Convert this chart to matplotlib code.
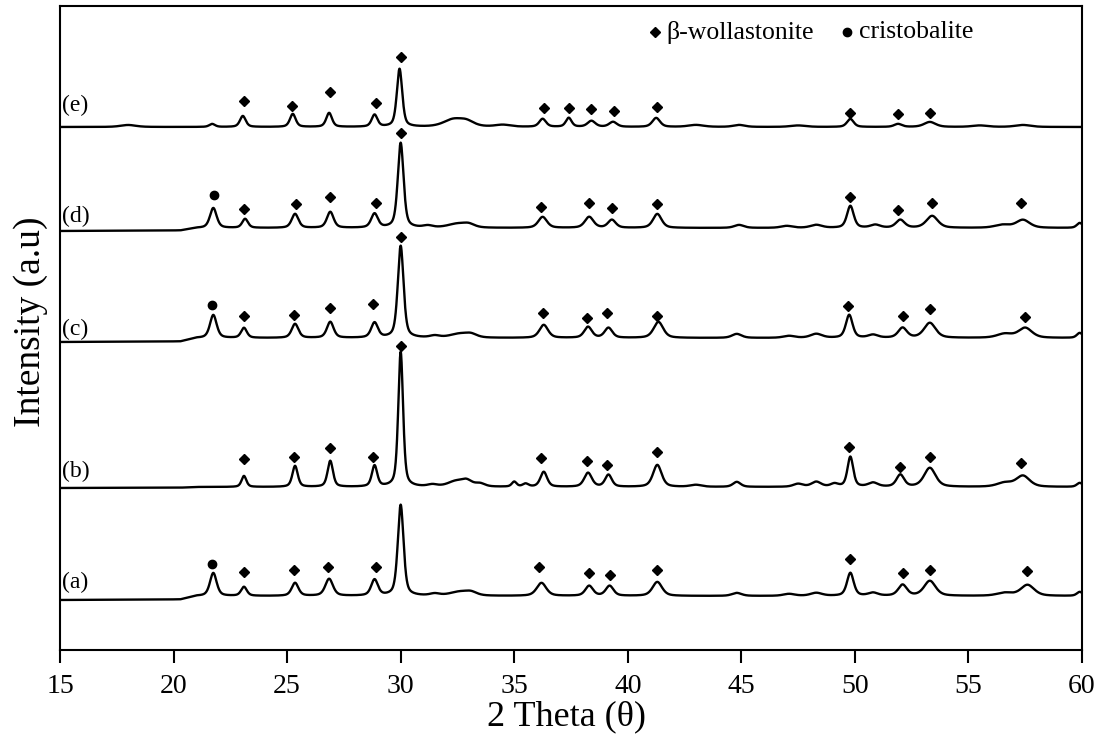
import numpy as np
import matplotlib
matplotlib.use("Agg")
import matplotlib.pyplot as plt

plt.rcParams['font.family'] = ['Liberation Serif', 'DejaVu Serif']

# ---------------- data ----------------
sample_labels = ["(a)", "(b)", "(c)", "(d)", "(e)"]

# peak tables: (2theta position, height above local baseline, FWHM)
peaks_a = [(21.75, 23, 0.35), (23.1, 9, 0.3), (25.35, 13, 0.35), (26.85, 17, 0.4),
           (28.85, 16, 0.35), (30.0, 91, 0.3), (31.5, 2, 0.5), (32.6, 4, 1.0),
           (33.1, 3, 0.6), (36.2, 13, 0.5), (38.3, 10, 0.4), (39.2, 10, 0.4),
           (41.3, 14, 0.5), (44.8, 3, 0.5), (47.1, 2, 0.6), (48.3, 3, 0.6),
           (49.8, 23, 0.35), (50.8, 3, 0.5), (52.1, 11, 0.45), (53.3, 15, 0.6),
           (56.6, 3, 0.8), (57.6, 11, 0.7), (59.9, 4, 0.3)]
peaks_b = [(23.1, 11, 0.25), (25.35, 21, 0.28), (26.9, 26, 0.28), (28.85, 21, 0.28),
           (30.0, 135, 0.25), (31.4, 2, 0.5), (32.4, 5, 0.8), (32.9, 6, 0.6),
           (33.5, 3, 0.5), (35.0, 5, 0.25), (35.5, 3, 0.3), (36.3, 15, 0.35),
           (38.25, 14, 0.4), (39.15, 12, 0.35), (41.3, 22, 0.45), (43.0, 2, 0.6),
           (44.8, 5, 0.4), (47.5, 3, 0.5), (48.3, 5, 0.5), (49.1, 3, 0.4),
           (49.8, 30, 0.3), (50.8, 4, 0.5), (52.0, 12, 0.4), (53.3, 19, 0.6),
           (56.6, 4, 0.8), (57.4, 11, 0.7), (59.9, 4, 0.3)]
peaks_c = [(21.75, 23, 0.35), (23.1, 10, 0.3), (25.35, 14, 0.35), (26.9, 16, 0.35),
           (28.85, 15, 0.35), (30.0, 92, 0.3), (31.5, 2, 0.5), (32.6, 4, 1.0),
           (33.1, 3, 0.6), (36.3, 13, 0.45), (38.25, 11, 0.4), (39.15, 10, 0.4),
           (41.35, 16, 0.5), (44.8, 4, 0.5), (47.1, 2, 0.6), (48.3, 4, 0.6),
           (49.75, 23, 0.35), (50.8, 3, 0.5), (52.1, 10, 0.45), (53.3, 15, 0.6),
           (56.6, 4, 0.8), (57.5, 10, 0.7), (59.9, 5, 0.3)]
peaks_d = [(21.75, 20, 0.35), (23.15, 9, 0.3), (25.35, 14, 0.35), (26.9, 16, 0.35),
           (28.85, 14, 0.35), (30.0, 85, 0.3), (31.2, 2, 0.5), (32.5, 4, 1.0),
           (33.0, 3, 0.6), (36.25, 11, 0.45), (38.3, 11, 0.45), (39.3, 8, 0.4),
           (41.3, 14, 0.45), (44.9, 3, 0.5), (47.0, 2, 0.6), (48.3, 3, 0.6),
           (49.8, 22, 0.35), (50.9, 3, 0.5), (52.0, 8, 0.45), (53.4, 12, 0.6),
           (56.5, 3, 0.8), (57.4, 8, 0.7), (59.9, 5, 0.3)]
peaks_e = [(18.0, 2, 0.8), (21.7, 3, 0.3), (23.05, 11, 0.3), (25.25, 13, 0.3),
           (26.85, 14, 0.3), (28.85, 12, 0.3), (29.95, 58, 0.28), (32.3, 7, 1.0),
           (32.9, 5, 0.8), (34.5, 2, 0.8), (36.25, 8, 0.35), (37.4, 9, 0.3),
           (38.4, 6, 0.4), (39.35, 5, 0.4), (41.25, 9, 0.4), (43.0, 2, 0.8),
           (44.9, 2, 0.6), (47.5, 1.5, 0.8), (49.8, 8, 0.35), (51.9, 3, 0.4),
           (53.3, 5, 0.6), (55.5, 1.5, 0.8), (57.4, 2, 0.8)]

# baseline shape (2theta, level) per pattern
base_x = [15, 20.3, 21.0, 60]
base_a = [0, 0.5, 4, 4]
base_b = [0, 0.3, 1, 1]
base_c = [0, 0.5, 4, 4]
base_d = [0, 0.5, 3, 3]
base_e = [0, 0, 0, 0]

# phase markers: (2theta, height above pattern origin)
wol_a = [(23.1, 28), (25.3, 30), (26.8, 33), (28.9, 33), (36.1, 33), (38.3, 27),
         (39.2, 25), (41.3, 30), (49.8, 41), (52.1, 27), (53.3, 30), (57.6, 29)]
cri_a = [(21.7, 36)]
wol_b = [(23.1, 29), (25.3, 31), (26.9, 40), (28.8, 31), (30.0, 142), (36.2, 30),
         (38.2, 27), (39.1, 23), (41.3, 36), (49.75, 41), (52.0, 21), (53.3, 31),
         (57.3, 25)]
cri_b = []
wol_c = [(23.1, 26), (25.3, 27), (26.9, 34), (28.8, 38), (30.0, 105), (36.25, 29),
         (38.2, 24), (39.1, 29), (41.3, 26), (49.7, 36), (52.1, 26), (53.3, 33),
         (57.5, 25)]
cri_c = [(21.7, 37)]
wol_d = [(23.1, 22), (25.4, 27), (26.9, 34), (28.9, 28), (30.0, 98), (36.2, 24),
         (38.3, 28), (39.3, 23), (41.3, 27), (49.8, 34), (51.9, 21), (53.4, 28),
         (57.3, 28)]
cri_d = [(21.8, 36)]
wol_e = [(23.1, 26), (25.2, 21), (26.9, 35), (28.9, 24), (30.0, 70), (36.3, 19),
         (37.4, 19), (38.4, 18), (39.4, 16), (41.3, 20), (49.8, 14), (51.9, 13),
         (53.3, 14)]
cri_e = []

legend_wol = "β-wollastonite"
legend_cri = "cristobalite"
x_ticks = [15, 20, 25, 30, 35, 40, 45, 50, 55, 60]

# ---------------- layout ----------------
offsets = [50, 162, 308, 419, 523]
label_y = [68, 179, 321, 434, 545]

peaks_all = [peaks_a, peaks_b, peaks_c, peaks_d, peaks_e]
bases_all = [base_a, base_b, base_c, base_d, base_e]
wol_all = [wol_a, wol_b, wol_c, wol_d, wol_e]
cri_all = [cri_a, cri_b, cri_c, cri_d, cri_e]

x = np.linspace(15, 60, 4501)


def pattern(peaks, base):
    y = np.interp(x, base_x, base).astype(float)
    eta = 0.5
    for p, h, w in peaks:
        d = (x - p) / (w / 2.0)
        lor = 1.0 / (1.0 + d ** 2)
        gau = np.exp(-np.log(2) * d ** 2)
        y += h * (eta * lor + (1 - eta) * gau)
    return y


fig = plt.figure(figsize=(11.02, 7.42), dpi=100)
ax = fig.add_axes([60 / 1102, 92 / 742, 1022 / 1102, 644 / 742])

for i in range(5):
    y = pattern(peaks_all[i], bases_all[i]) + offsets[i]
    ax.plot(x, y, color='black', lw=1.7)
    if wol_all[i]:
        wx = [p for p, _ in wol_all[i]]
        wy = [h + offsets[i] for _, h in wol_all[i]]
        ax.plot(wx, wy, 'D', color='black', ms=5.5, ls='none')
    if cri_all[i]:
        cx = [p for p, _ in cri_all[i]]
        cy = [h + offsets[i] for _, h in cri_all[i]]
        ax.plot(cx, cy, 'o', color='black', ms=6, ls='none')
    ax.text(15.08, label_y[i], sample_labels[i], fontsize=17, ha='left', va='center')

# legend line at top
ax.plot([41.2], [618], 'D', color='black', ms=5.5)
ax.text(41.7, 618, legend_wol, fontsize=18.5, ha='left', va='center')
ax.plot([49.65], [618], 'o', color='black', ms=6)
ax.text(50.2, 618, legend_cri, fontsize=18.5, ha='left', va='center')

ax.set_xlim(15, 60)
ax.set_ylim(0, 644)
ax.set_xticks(x_ticks)
ax.set_yticks([])
ax.tick_params(axis='x', direction='out', length=9, width=1.5, pad=8, labelsize=20)
for s in ax.spines.values():
    s.set_linewidth(1.5)

ax.set_xlabel("2 Theta (θ)", fontsize=26)
ax.xaxis.set_label_coords(0.496, -0.078)
ax.set_ylabel("Intensity (a.u)", fontsize=27)
ax.yaxis.set_label_coords(-0.012, 0.509)

fig.savefig("out.png", dpi=100)
